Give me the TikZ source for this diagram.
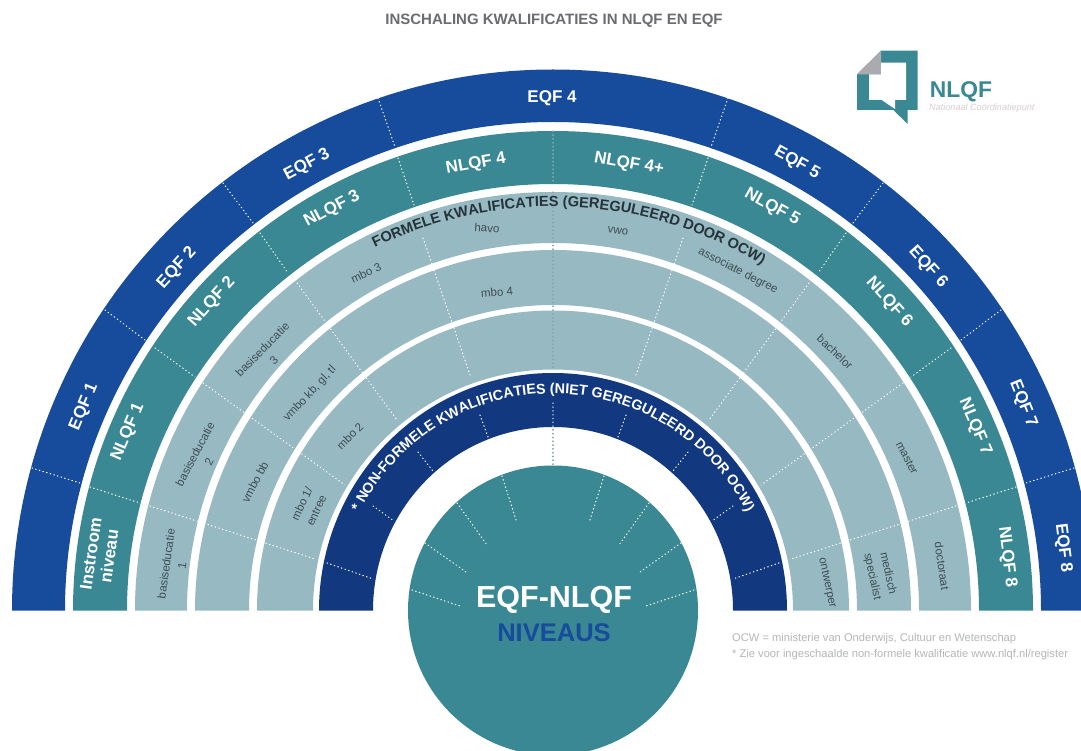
\documentclass[tikz,border=0pt]{standalone}
\usepackage{fontspec}
\setmainfont{Liberation Sans}
\usetikzlibrary{decorations.text}
\definecolor{eqfblue}{HTML}{174B9B}
\definecolor{nlqfteal}{HTML}{3A8893}
\definecolor{formal}{HTML}{97B9C1}
\definecolor{nonformal}{HTML}{12387F}
\definecolor{smalltext}{HTML}{3D4D53}
\definecolor{headtext}{HTML}{25333A}
\definecolor{titlegrey}{HTML}{6A6C70}
\definecolor{footgrey}{HTML}{B4B6B8}
\definecolor{logogrey}{HTML}{ABABAF}
\definecolor{logosub}{HTML}{D6CED2}
\definecolor{midline}{HTML}{86A6AF}
\tikzset{
  bandlabel/.style={font=\fontsize{17}{18.5}\selectfont\bfseries,text=white,inner sep=0pt,align=center},
  smalllabel/.style={font=\fontsize{11.5}{16}\selectfont,text=smalltext,inner sep=0pt,align=center},
  divider/.style={white,line width=1.1pt,dash pattern=on 0.6pt off 3.2pt,line cap=round},
  midpart/.style={midline,line width=1.1pt,dash pattern=on 0.6pt off 3.2pt,line cap=round},
}
% fill colour, outer x and y radius, inner x and y radius
\newcommand{\ringband}[5]{\fill[#1] ({553-#2},610.5) arc[start angle=180,end angle=0,x radius=#2 pt,y radius=#3 pt] -- ({553+#4},610.5) arc[start angle=0,end angle=180,x radius=#4 pt,y radius=#5 pt] -- cycle;}
\newcommand{\twodiv}[4]{\draw[divider] (#1,#2) -- (#3,#4); \draw[divider] ({1106-#1},#2) -- ({1106-#3},#4);}
\begin{document}
\begin{tikzpicture}[x=1pt,y=-1pt]
\useasboundingbox (0,0) rectangle (1081,751);
\clip (0,0) rectangle (1081,751);
\fill[white] (0,0) rectangle (1081,751);
% rings
\ringband{eqfblue}{541}{541}{488}{488.5}
\ringband{nlqfteal}{480}{479.5}{426}{426.5}
\ringband{formal}{418}{418.5}{366}{367.5}
\ringband{formal}{358}{360.5}{304}{305.5}
\ringband{formal}{296}{300}{240}{241}
\ringband{nonformal}{234}{237.5}{180}{183.5}
\fill[nlqfteal] (553,610.5) circle[radius=145pt];
% dividers
\twodiv{32}{468}{80}{483}
\twodiv{105}{310}{145}{340}
\twodiv{223}{183}{253}{223}
\twodiv{378}{98}{395}{147}
\twodiv{90}{487}{140}{503}
\twodiv{155}{348}{195}{377}
\twodiv{260}{233}{288}{273}
\twodiv{398}{158}{414}{205}
\twodiv{150}{506}{315}{559}
\twodiv{203}{383}{345}{485}
\twodiv{297}{283}{397}{420}
\twodiv{423}{238}{470}{375}
\twodiv{327}{563}{373}{579}
\twodiv{373}{506}{394}{521}
\twodiv{418}{452}{433}{471}
\twodiv{480}{415}{488}{437}
\twodiv{412}{590}{460}{606}
\twodiv{425}{543}{466}{572}
\twodiv{457}{503}{487}{545}
\twodiv{502}{476}{517}{523}
\draw[midpart] (553,131) -- (553,184);
\draw[midpart] (553,192) -- (553,370);
\draw[midpart] (553,403) -- (553,465);
% outer labels
\node[bandlabel,rotate=67] (eqf1) at (84,407) {EQF 1};
\node[bandlabel,rotate=48] (eqf2) at (177,268) {EQF 2};
\node[bandlabel,rotate=28] (eqf3) at (307,165) {EQF 3};
\node[bandlabel] (eqf4) at (552,98) {EQF 4};
\node[bandlabel,rotate=-29] (eqf5) at (797,163) {EQF 5};
\node[bandlabel,rotate=-48] (eqf6) at (928,267) {EQF 6};
\node[bandlabel,rotate=-68] (eqf7) at (1023,404) {EQF 7};
\node[bandlabel,rotate=-83] (eqf8) at (1063,548) {EQF 8};
\node[bandlabel,rotate=82] (instroom) at (100,555) {Instroom\\niveau};
\node[bandlabel,rotate=67] (nlqf1) at (128,432) {NLQF 1};
\node[bandlabel,rotate=48] (nlqf2) at (212,302) {NLQF 2};
\node[bandlabel,rotate=28] (nlqf3) at (332,209) {NLQF 3};
\node[bandlabel,rotate=10] (nlqf4) at (476,164) {NLQF 4};
\node[bandlabel,rotate=-10] (nlqf4p) at (629,164) {NLQF 4+};
\node[bandlabel,rotate=-29] (nlqf5) at (772,207) {NLQF 5};
\node[bandlabel,rotate=-48] (nlqf6) at (889,302) {NLQF 6};
\node[bandlabel,rotate=-67] (nlqf7) at (975,427) {NLQF 7};
\node[bandlabel,rotate=-83] (nlqf8) at (1007,557) {NLQF 8};
% qualification labels
\node[smalllabel,rotate=82] (bas1) at (174,565) {basiseducatie\\1};
\node[smalllabel,rotate=62] (bas2) at (202,458) {basiseducatie\\2};
\node[smalllabel,rotate=45] (bas3) at (268,355) {basiseducatie\\3};
\node[smalllabel,rotate=25] (mbo3) at (366,273) {mbo 3};
\node[smalllabel,rotate=-3] (havo) at (487,228) {havo};
\node[smalllabel,rotate=-8] (vwo) at (618,231) {vwo};
\node[smalllabel,rotate=-27] (ad) at (738,271) {associate degree};
\node[smalllabel,rotate=-43] (bach) at (835,352) {bachelor};
\node[smalllabel,rotate=-62] (master) at (907,458) {master};
\node[smalllabel,rotate=-82] (doct) at (942,566) {doctoraat};
\node[smalllabel,rotate=-78] (med) at (880,575) {medisch\\specialist};
\node[smalllabel,rotate=-78] (ontw) at (827,583) {ontwerper};
\node[smalllabel,rotate=5] (mbo4) at (497,292) {mbo 4};
\node[smalllabel,rotate=62] (vmbobb) at (255,482) {vmbo bb};
\node[smalllabel,rotate=47] (vmbokb) at (310,394) {vmbo kb, gl, tl};
\node[smalllabel,rotate=65] (mbo1) at (309,507) {mbo 1/\\entree};
\node[smalllabel,rotate=45] (mbo2) at (350,436) {mbo 2};
% curved headings
\path[decorate,decoration={text along path,text align=center,
  text={|\fontsize{14.6}{17}\selectfont\bfseries\color{headtext}|FORMELE KWALIFICATIES (GEREGULEERD DOOR OCW)}}]
  ({553+404*cos(157.5)},{610.5-404*sin(157.5)}) arc[start angle=157.5,end angle=17.5,radius=404pt];
\path[decorate,decoration={text along path,text align=center,
  text={|\fontsize{14.3}{16}\selectfont\bfseries\color{white}|* NON-FORMELE KWALIFICATIES (NIET GEREGULEERD DOOR OCW)}}]
  ({553+217*cos(175)},{610.5-217*sin(175)}) arc[start angle=175,end angle=5,radius=217pt];
% centre
\node[font=\fontsize{30.5}{32}\selectfont\bfseries,text=white,inner sep=0pt] (centre) at (554,600) {EQF-NLQF};
\node[font=\fontsize{25.5}{28}\selectfont\bfseries,text=eqfblue,inner sep=0pt] (niveaus) at (554,633) {NIVEAUS};
% title
\node[font=\fontsize{15}{17}\selectfont\bfseries,text=titlegrey,inner sep=0pt] (title) at (554,20.7) {INSCHALING KWALIFICATIES IN NLQF EN EQF};
% footnotes
\node[font=\fontsize{11.15}{12}\selectfont,text=footgrey,inner sep=0pt,anchor=west] (foot1) at (732,639) {OCW = ministerie van Onderwijs, Cultuur en Wetenschap};
\node[font=\fontsize{11.15}{12}\selectfont,text=footgrey,inner sep=0pt,anchor=west] (foot2) at (732,655) {* Zie voor ingeschaalde non-formele kwalificatie www.nlqf.nl/register};
% logo
\fill[nlqfteal] (857,74.3) -- (881,50.7) -- (917.7,50.7) -- (917.7,110) -- (907.7,110) -- (907.7,124) -- (893.3,110) -- (857,110) -- cycle;
\fill[logogrey] (857,74.3) -- (881,50.7) -- (881,74.3) -- cycle;
\fill[white] (869,74.3) -- (881,74.3) -- (881,62.7) -- (906,62.7) -- (906,100) -- (895,100) -- (895,109) -- (881.7,100) -- (869,100) -- cycle;
\node[font=\fontsize{22.8}{24}\selectfont\bfseries,text=nlqfteal,inner sep=0pt] (logotext) at (961,91.5) {NLQF};
\node[font=\fontsize{9.1}{10}\selectfont\itshape,text=logosub,inner sep=0pt,anchor=west] (logosub) at (929,108) {Nationaal Coördinatiepunt};
\end{tikzpicture}
\end{document}
